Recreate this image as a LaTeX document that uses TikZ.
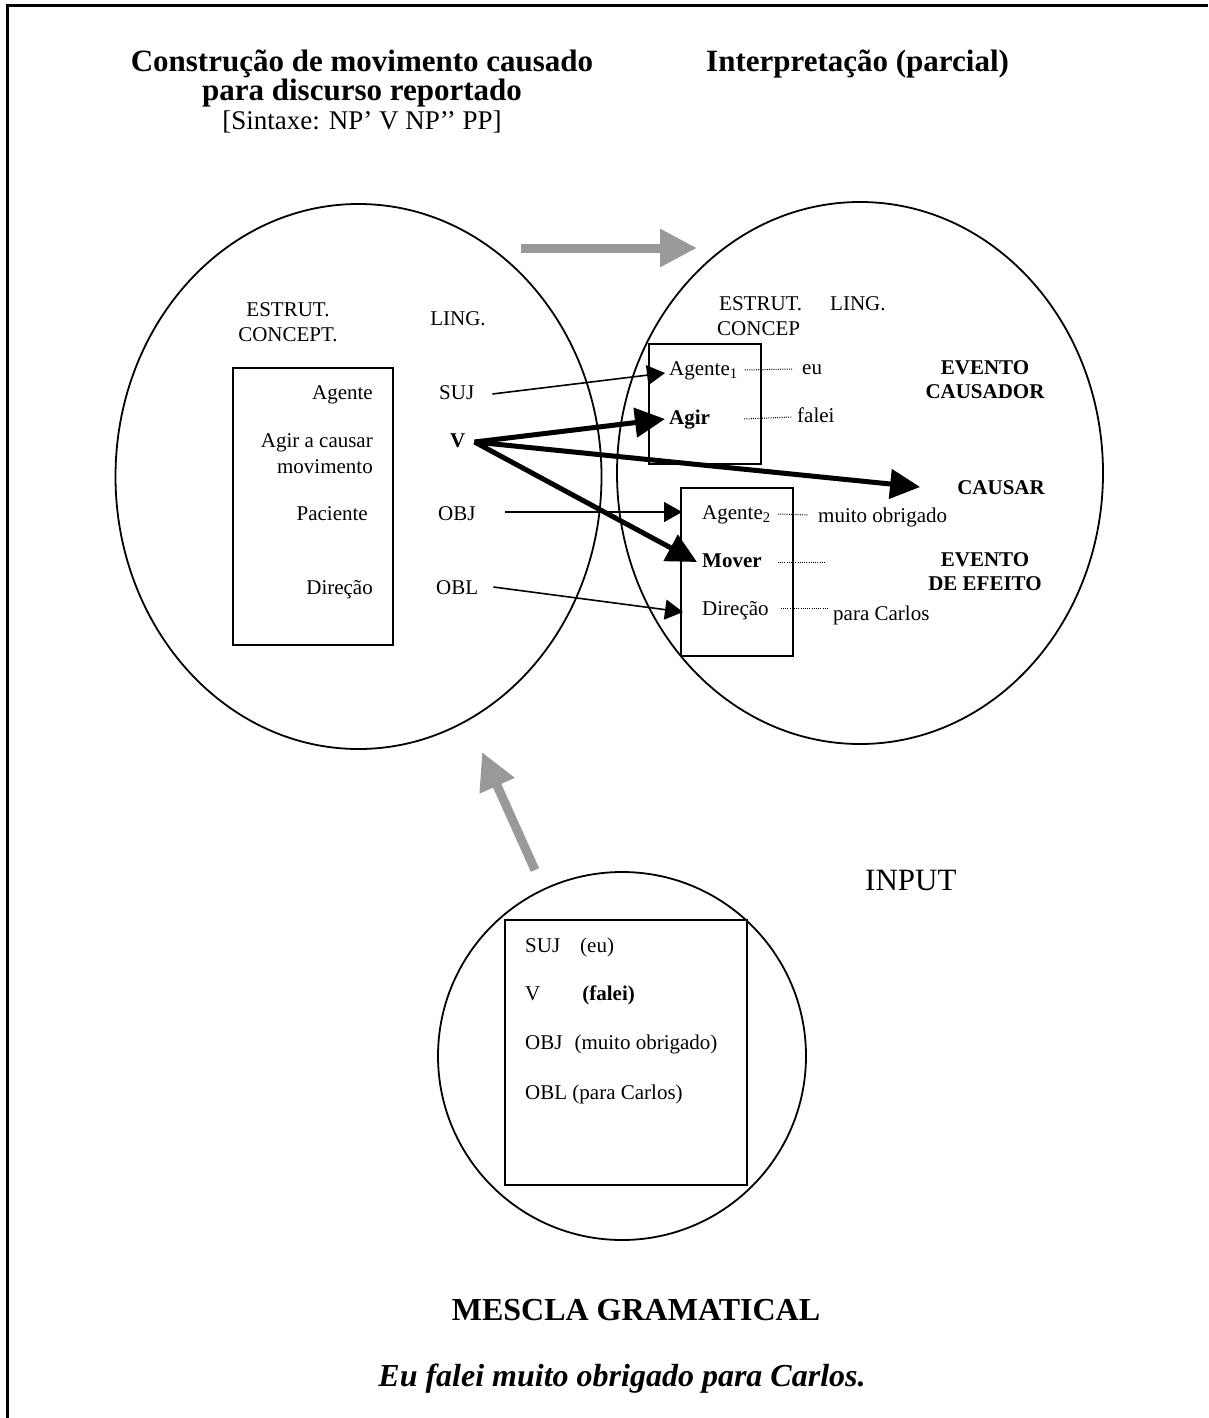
\documentclass[tikz,border=0pt]{standalone}
\usepackage{fontspec}
\setmainfont{Liberation Serif}
\usetikzlibrary{arrows.meta,shapes.geometric}
\definecolor{arrowgray}{RGB}{153,153,153}
\begin{document}
\begin{tikzpicture}[x=1pt,y=-1pt,
  lbl/.style={inner sep=0pt,text height=14pt,text depth=4pt,font=\fontsize{21}{25}\selectfont},
  big/.style={inner sep=0pt,font=\fontsize{31}{29}\selectfont},
  space/.style={draw,line width=1.8pt,ellipse,inner sep=0pt},
  panel/.style={draw,line width=1.8pt},
  thinarrow/.style={line width=1.6pt,-{Triangle[length=18pt,width=20pt]}},
  thickarrow/.style={line width=5pt,-{Triangle[length=30pt,width=29pt]}},
  grayarrow/.style={line width=9pt,draw=arrowgray,-{Triangle[length=37pt,width=36pt,fill=arrowgray]}},
  dots/.style={line width=1pt,dash pattern=on 1pt off 1.2pt},
]
\useasboundingbox (0,0) rectangle (1208,1418);
% page frame (top and left rules)
\draw[line width=3pt] (7,1418) -- (7,6) -- (1208,6);

% headings
\node[big,font=\fontsize{31}{29}\selectfont\bfseries,anchor=base] (t1) at (362,72) {Construção de movimento causado};
\node[big,font=\fontsize{31}{29}\selectfont\bfseries,anchor=base] (t2) at (362,101) {para discurso reportado};
\node[big,font=\fontsize{27}{29}\selectfont,anchor=base] (t3) at (362,129) {[Sintaxe: NP’ V NP’’ PP]};
\node[big,font=\fontsize{31}{29}\selectfont\bfseries,anchor=base west] (t4) at (706,72) {Interpretação (parcial)};

% the two mental spaces and the input space
\node[space,minimum width=486pt,minimum height=545pt] (lsp) at (358.5,476.5) {};
\node[space,minimum width=486pt,minimum height=542pt] (rsp) at (860,473) {};
\node[space,circle,minimum size=368pt] (isp) at (622,1056) {};

% boxes
\draw[panel] (233,368) rectangle (393,645);
\draw[panel] (649,344) rectangle (761,464);
\draw[panel] (681,488) rectangle (793,656);
\draw[panel] (505,920) rectangle (747,1185);

% left space
\node[lbl,anchor=base] (le) at (288,316) {ESTRUT.};
\node[lbl,anchor=base] (lc) at (288,341) {CONCEPT.};
\node[lbl,anchor=base] (ll) at (458,325) {LING.};
\node[lbl,anchor=base east] (lag) at (373,399) {Agente};
\node[lbl,anchor=base east] (lac) at (373,447) {Agir a causar};
\node[lbl,anchor=base east] (lmv) at (373,473) {movimento};
\node[lbl,anchor=base east] (lpa) at (368,520) {Paciente};
\node[lbl,anchor=base east] (ldi) at (373,594) {Direção};
\node[lbl,anchor=base west] (suj) at (439,399) {SUJ};
\node[lbl,anchor=base west,font=\fontsize{21}{25}\selectfont\bfseries] (vv) at (450,447) {V};
\node[lbl,anchor=base west] (obj) at (438,520) {OBJ};
\node[lbl,anchor=base west] (obl) at (436,594) {OBL};

% right space
\node[lbl,anchor=base west] (re) at (719,310) {ESTRUT.};
\node[lbl,anchor=base west] (rl) at (830,310) {LING.};
\node[lbl,anchor=base west] (rc) at (717,335) {CONCEP};
\node[lbl,anchor=base west] (ag1) at (669,375) {Agente\textsubscript{1}};
\node[lbl,anchor=base west] (eu) at (802,374) {eu};
\node[lbl,anchor=base west,font=\fontsize{21}{25}\selectfont\bfseries] (agir) at (669,424) {Agir};
\node[lbl,anchor=base west] (falei) at (797,422) {falei};
\node[lbl,anchor=base west] (ag2) at (702,519) {Agente\textsubscript{2}};
\node[lbl,anchor=base west] (mo) at (818,522) {muito obrigado};
\node[lbl,anchor=base west,font=\fontsize{21}{25}\selectfont\bfseries] (mover) at (702,567) {Mover};
\node[lbl,anchor=base west] (dir) at (702,615) {Direção};
\node[lbl,anchor=base west] (pc) at (833,620) {para Carlos};
\node[lbl,anchor=base,font=\fontsize{21}{25}\selectfont\bfseries] (ev1) at (985,374) {EVENTO};
\node[lbl,anchor=base,font=\fontsize{21}{25}\selectfont\bfseries] (cau) at (985,398) {CAUSADOR};
\node[lbl,anchor=base east,font=\fontsize{21}{25}\selectfont\bfseries] (causar) at (1045,494) {CAUSAR};
\node[lbl,anchor=base,font=\fontsize{21}{25}\selectfont\bfseries] (ev2) at (985,566) {EVENTO};
\node[lbl,anchor=base,font=\fontsize{21}{25}\selectfont\bfseries] (efe) at (985,590) {DE EFEITO};

% dotted correspondences
\draw[dots] ([xshift=7pt]ag1.east) -- ([xshift=-10pt]eu.west);
\draw[dots] ([xshift=34pt]agir.east) -- ([xshift=-5pt]falei.west);
\draw[dots] ([xshift=7pt]ag2.east) -- ([xshift=-10pt,yshift=2pt]mo.west);
\draw[dots] ([xshift=16pt]mover.east) -- ++(48,0);
\draw[dots] ([xshift=12pt,yshift=2pt]dir.east) -- ++(48,0);

% input space
\node[lbl,anchor=base west] (i1) at (525,952) {SUJ\hspace{20pt}(eu)};
\node[lbl,anchor=base west] (i2) at (525,1000) {V\hspace{42pt}\textbf{(falei)}};
\node[lbl,anchor=base west] (i3) at (525,1049) {OBJ\hspace{12pt}(muito obrigado)};
\node[lbl,anchor=base west] (i4) at (525,1099) {OBL (para Carlos)};
\node[big,anchor=base west] (inp) at (865,890) {INPUT};

% bottom captions
\node[big,font=\fontsize{32}{30}\selectfont\bfseries,anchor=base] (mes) at (636,1320) {MESCLA GRAMATICAL};
\node[big,font=\fontsize{32}{30}\selectfont\bfseries\itshape,anchor=base] (ex) at (622,1386) {Eu falei muito obrigado para Carlos.};

% mappings
\draw[thinarrow] ([xshift=18pt]suj.east) -- ([xshift=-4pt,yshift=-3pt]ag1.west);
\draw[thinarrow] ([xshift=29pt,yshift=3pt]obj.east) -- ([xshift=-20pt,yshift=2pt]ag2.west);
\draw[thinarrow] ([xshift=15pt,yshift=2pt]obl.east) -- ([xshift=-19pt,yshift=-2pt]dir.west);
\draw[thickarrow] ([xshift=9pt]vv.east) -- ([xshift=-4pt]agir.west);
\draw[thickarrow] ([xshift=9pt]vv.east) -- ([xshift=-37pt,yshift=2pt]causar.west);
\draw[thickarrow] ([xshift=9pt]vv.east) -- ([xshift=-5pt]mover.west);

% projections between spaces
\coordinate (hs) at (521,248);
\coordinate (ht) at (697,248);
\draw[grayarrow] (hs) -- (ht);
\coordinate (ds) at (535,870);
\coordinate (dt) at (482,752);
\draw[grayarrow] (ds) -- (dt);
\end{tikzpicture}
\end{document}
